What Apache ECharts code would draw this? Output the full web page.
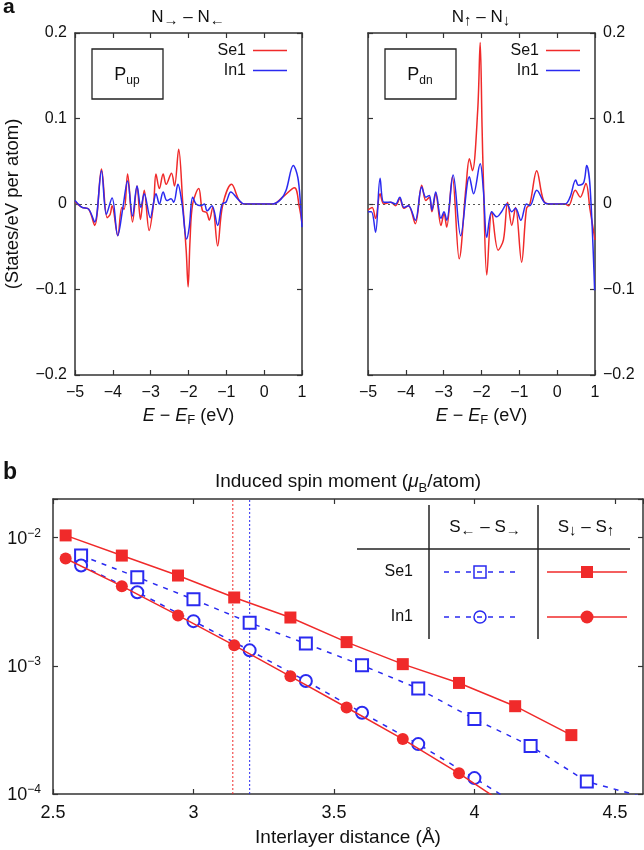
<!DOCTYPE html>
<html>
<head>
<meta charset="utf-8">
<script src="https://cdn.jsdelivr.net/npm/echarts@6.0.0/dist/echarts.min.js"></script>
<style>
  html, body { margin: 0; padding: 0; background: #fff; }
  #chart { width: 644px; height: 850px; }
</style>
</head>
<body>
<div id="chart"></div>
<script>
// ---------- Panel a (left): N→ − N← , P_up ----------
const upSe1E = [-5.0,-4.815,-4.64,-4.48,-4.30,-4.15,-4.07,-4.02,-3.87,-3.76,-3.70,-3.61,-3.48,-3.36,-3.27,-3.17,-3.04,-2.92,-2.86,-2.77,-2.67,-2.59,-2.45,-2.37,-2.26,-2.15,-2.06,-2.01,-1.96,-1.89,-1.73,-1.63,-1.52,-1.45,-1.36,-1.23,-1.10,-0.86,-0.66,-0.52,0.23,0.49,0.80,0.93,1.0];
const upSe1V = [0.003,-0.004,-0.006,-0.025,0.041,-0.016,-0.012,-0.002,-0.037,-0.004,-0.006,0.035,-0.021,0.021,-0.018,0.016,-0.031,0.002,0.035,0.018,0.035,0.023,0.036,0.021,0.064,0.0,-0.055,-0.097,-0.043,0.0,0.018,-0.008,-0.010,-0.019,-0.004,-0.049,-0.002,0.023,0.004,0.0,0.0,0.008,0.019,-0.004,-0.022];
const upIn1E = [-5.0,-4.815,-4.64,-4.48,-4.30,-4.17,-4.02,-3.87,-3.74,-3.61,-3.48,-3.36,-3.26,-3.17,-3.01,-2.92,-2.86,-2.77,-2.67,-2.57,-2.46,-2.39,-2.28,-2.17,-2.05,-1.98,-1.89,-1.80,-1.67,-1.58,-1.51,-1.38,-1.23,-1.11,-1.01,-0.88,-0.70,-0.52,0.23,0.45,0.58,0.77,0.89,0.96,1.0];
const upIn1V = [0.004,-0.004,-0.006,-0.021,0.039,-0.012,0.007,-0.037,-0.006,0.027,-0.014,0.021,-0.004,0.012,-0.016,0.002,0.012,0.0,0.014,0.004,0.006,0.002,0.023,0.0,-0.041,-0.027,0.008,0.0,-0.002,0.0,-0.008,-0.002,-0.025,0.0,0.002,0.014,0.006,0.0,0.0,0.006,0.016,0.045,0.031,0.0,-0.027];

// ---------- Panel a (right): N↑ − N↓ , P_dn ----------
const dnSe1E = [-5.0,-4.89,-4.80,-4.68,-4.58,-4.40,-4.27,-4.16,-4.05,-3.93,-3.75,-3.58,-3.47,-3.38,-3.31,-3.21,-3.07,-2.99,-2.92,-2.77,-2.59,-2.41,-2.32,-2.24,-2.10,-2.035,-1.985,-1.95,-1.86,-1.73,-1.56,-1.42,-1.31,-1.20,-1.10,-0.94,-0.81,-0.72,-0.54,-0.36,-0.19,0.21,0.30,0.48,0.61,0.76,0.87,1.0];
const dnSe1V = [-0.007,-0.004,-0.017,0.012,0.0,0.002,-0.002,0.006,-0.005,-0.002,-0.023,0.022,0.004,0.008,-0.009,0.012,-0.025,-0.011,-0.027,0.032,-0.064,0.020,0.053,0.039,0.11,0.189,0.09,0.028,-0.083,-0.009,-0.054,-0.042,0.002,-0.025,-0.004,-0.068,-0.005,0.0,0.039,0.004,0.0,0.0,-0.002,0.016,0.008,0.024,-0.007,-0.042];
const dnIn1E = [-5.0,-4.91,-4.80,-4.68,-4.58,-4.40,-4.27,-4.16,-4.05,-3.93,-3.75,-3.58,-3.47,-3.38,-3.31,-3.21,-3.07,-2.99,-2.92,-2.75,-2.55,-2.32,-2.21,-2.035,-1.95,-1.86,-1.73,-1.60,-1.47,-1.33,-1.20,-1.10,-0.96,-0.81,-0.72,-0.54,-0.32,-0.19,0.21,0.34,0.49,0.56,0.70,0.78,0.87,0.99];
const dnIn1V = [-0.009,-0.009,-0.033,0.030,0.002,0.002,0.0,0.008,-0.004,-0.002,-0.019,0.020,0.008,0.010,-0.007,0.014,-0.017,-0.009,-0.019,0.034,-0.037,0.032,0.012,0.047,0.016,-0.039,-0.009,-0.015,-0.009,0.0,-0.009,-0.005,-0.019,0.0,-0.002,0.016,0.001,0.0,0.0,0.008,0.028,0.022,0.025,0.045,0.020,-0.101];

// ---------- Panel b: induced spin moment ----------
const dist1 = [2.545,2.745,2.945,3.145,3.345,3.545,3.745,3.945,4.145,4.345];
const se1UD = [0.0104,0.00724,0.00506,0.00341,0.00238,0.00153,0.00103,0.000735,0.000484,0.000288];
const in1UD = [0.00687,0.00418,0.00247,0.001445,0.000828,0.000473,0.000268,0.000145,0.000074];
const dist2 = [2.6,2.8,3.0,3.2,3.4,3.6,3.8,4.0,4.2,4.4,4.6];
const se1LR = [0.00724,0.00491,0.0033,0.00217,0.00149,0.00101,0.000665,0.000384,0.000237,0.000125,0.000095];
const in1LR = [0.00605,0.00375,0.00223,0.00132,0.000762,0.00043,0.000245,0.000133,0.000071];
const refRed = 3.14, refBlue = 3.2;
const momRange = [1e-4, 0.02];

const xTicksTop = { min: -5, max: 1, interval: 1 };
const yTicksTop = { min: -0.2, max: 0.2, interval: 0.1 };

const RED = '#f02a2a', BLUE = '#2a2af0', AX = '#333';
const FONT = 'Liberation Sans, Arial, Helvetica, sans-serif';

const zip = (a, b) => a.slice(0, Math.min(a.length, b.length)).map((v, i) => [v, b[i]]);
const minus = v => String(v).replace('-', '\u2212');

function topX(gi, pos, labels) {
  return {
    type: 'value', gridIndex: gi, position: pos, ...xTicksTop,
    axisLine: { show: true, onZero: false, lineStyle: { color: AX, width: 1.5 } },
    axisTick: { show: true, inside: true, length: 5, lineStyle: { color: AX, width: 1.2 } },
    axisLabel: { show: labels, color: '#111', fontSize: 16, fontFamily: FONT, margin: 10, formatter: minus, showMinLabel: true, showMaxLabel: true },
    splitLine: { show: false },
    name: labels ? '{i|E}{n| \u2212 }{i|E}{s|F}{n| (eV)}' : '',
    nameLocation: 'middle', nameGap: 30,
    nameTextStyle: { fontFamily: FONT, color: '#111', rich: {
      i: { fontSize: 18, fontStyle: 'italic', fontFamily: FONT, lineHeight: 22 },
      n: { fontSize: 18, fontFamily: FONT, lineHeight: 22 },
      s: { fontSize: 13, fontFamily: FONT, lineHeight: 13, verticalAlign: 'bottom' } } }
  };
}
function topY(gi, pos, labels, named) {
  return {
    type: 'value', gridIndex: gi, position: pos, ...yTicksTop,
    axisLine: { show: true, onZero: false, lineStyle: { color: AX, width: 1.5 } },
    axisTick: { show: true, inside: true, length: 5, lineStyle: { color: AX, width: 1.2 } },
    axisLabel: { show: labels, color: '#111', fontSize: 16, fontFamily: FONT, margin: 8, formatter: minus },
    splitLine: { show: false },
    name: named ? '(States/eV per atom)' : '',
    nameLocation: 'middle', nameGap: 53, nameRotate: 90,
    nameTextStyle: { fontSize: 18.5, fontFamily: FONT, color: '#111' }
  };
}
const logFmt = v => {
  const e = Math.round(Math.log10(v));
  if (Math.abs(v / Math.pow(10, e) - 1) > 1e-6) return '';
  return '{b|10}{s|\u2212' + (-e) + '}';
};
function botY(pos, labels) {
  return {
    type: 'log', gridIndex: 2, position: pos, min: momRange[0], max: momRange[1], logBase: 10,
    axisLine: { show: true, onZero: false, lineStyle: { color: AX, width: 1.5 } },
    axisTick: { show: true, inside: true, length: 5, lineStyle: { color: AX, width: 1.2 } },
    minorTick: { show: false },
    axisLabel: { show: labels, color: '#111', fontFamily: FONT, margin: 12, formatter: logFmt,
      rich: { b: { fontSize: 18, fontFamily: FONT, lineHeight: 20, verticalAlign: 'bottom' },
              s: { fontSize: 12, fontFamily: FONT, lineHeight: 12, verticalAlign: 'top' } } },
    splitLine: { show: false }
  };
}
function botX(pos, labels) {
  return {
    type: 'value', gridIndex: 2, position: pos, min: 2.5, max: 4.6, interval: 0.5,
    axisLine: { show: true, onZero: false, lineStyle: { color: AX, width: 1.5 } },
    axisTick: { show: true, inside: true, length: 5, lineStyle: { color: AX, width: 1.2 } },
    axisLabel: { show: labels, color: '#111', fontSize: 18, fontFamily: FONT, margin: 10, showMaxLabel: false, showMinLabel: true },
    splitLine: { show: false },
    name: labels ? 'Interlayer distance (\u00c5)' : '',
    nameLocation: 'middle', nameGap: 34,
    nameTextStyle: { fontSize: 19, fontFamily: FONT, color: '#111' }
  };
}

const zeroLine = {
  silent: true, symbol: 'none', label: { show: false },
  lineStyle: { color: '#555', type: [2, 3], width: 1.2 },
  data: [{ yAxis: 0 }]
};
function dos(name, xi, yi, data, color, withZero) {
  const s = {
    name, type: 'line', xAxisIndex: xi, yAxisIndex: yi, data,
    smooth: 0.35, symbol: 'none', lineStyle: { color, width: 1.5 }, itemStyle: { color },
    clip: true, animation: false
  };
  if (withZero) s.markLine = zeroLine;
  return s;
}
function mom(name, data, color, symbol, dashed) {
  return {
    name, type: 'line', xAxisIndex: 4, yAxisIndex: 4, data,
    symbol, symbolSize: 12,
    lineStyle: { color, width: 1.5, type: dashed ? [5, 6] : 'solid' },
    itemStyle: { color, borderColor: color, borderWidth: dashed ? 1.5 : 0 },
    clip: true, animation: false, z: dashed ? 3 : 4
  };
}
function vref(x, color) {
  return {
    name: 'ref' + x, type: 'line', xAxisIndex: 4, yAxisIndex: 4, silent: true,
    data: [[x, momRange[0]], [x, momRange[1]]], symbol: 'none',
    lineStyle: { color, type: [2, 2], width: 1 }, itemStyle: { color },
    animation: false, z: 1
  };
}

const rt = (s) => ({ fontFamily: FONT, fill: '#111', ...s });
const subRich = (big, small) => ({
  n: { fontSize: big, fontFamily: FONT, lineHeight: big + 6, fill: '#111' },
  i: { fontSize: big, fontFamily: FONT, fontStyle: 'italic', lineHeight: big + 6, fill: '#111' },
  s: { fontSize: small, fontFamily: FONT, lineHeight: small, verticalAlign: 'bottom', fill: '#111' }
});

const graphics = [
  { type: 'text', left: 3, top: -3, style: rt({ text: 'a', fontSize: 21, fontWeight: 'bold' }) },
  { type: 'text', left: 3, top: 461, style: rt({ text: 'b', fontSize: 23, fontWeight: 'bold' }) },
  { type: 'text', x: 188, y: 17, style: rt({ text: '{n|N}{s|\u2192}{n| \u2013 N}{s|\u2190}', align: 'center', verticalAlign: 'middle', rich: subRich(17, 15) }) },
  { type: 'text', x: 481, y: 17, style: rt({ text: '{n|N}{s|\u2191}{n| \u2013 N}{s|\u2193}', align: 'center', verticalAlign: 'middle', rich: subRich(17, 15) }) },
  { type: 'rect', shape: { x: 92, y: 49, width: 71, height: 50 }, style: { fill: 'none', stroke: '#222', lineWidth: 1.3 } },
  { type: 'text', x: 127, y: 75, style: rt({ text: '{n|P}{s|up}', align: 'center', verticalAlign: 'middle', rich: subRich(18, 12) }) },
  { type: 'rect', shape: { x: 385, y: 49, width: 71, height: 50 }, style: { fill: 'none', stroke: '#222', lineWidth: 1.3 } },
  { type: 'text', x: 420, y: 75, style: rt({ text: '{n|P}{s|dn}', align: 'center', verticalAlign: 'middle', rich: subRich(18, 12) }) },
  { type: 'text', x: 348, y: 482, style: rt({ text: '{n|Induced spin moment (}{i|\u03bc}{s|B}{n|/atom)}', align: 'center', verticalAlign: 'middle', rich: subRich(19, 13) }) },
  // legend table in panel b
  { type: 'line', shape: { x1: 429, y1: 505, x2: 429, y2: 639 }, style: { stroke: '#222', lineWidth: 1.5 } },
  { type: 'line', shape: { x1: 538, y1: 505, x2: 538, y2: 639 }, style: { stroke: '#222', lineWidth: 1.5 } },
  { type: 'line', shape: { x1: 357, y1: 549, x2: 630, y2: 549 }, style: { stroke: '#222', lineWidth: 1.5 } },
  { type: 'text', x: 485, y: 527, style: rt({ text: '{n|S}{s|\u2190}{n| \u2013 S}{s|\u2192}', align: 'center', verticalAlign: 'middle', rich: subRich(17, 15) }) },
  { type: 'text', x: 586, y: 527, style: rt({ text: '{n|S}{s|\u2193}{n| \u2013 S}{s|\u2191}', align: 'center', verticalAlign: 'middle', rich: subRich(17, 15) }) },
  { type: 'text', x: 413, y: 572, style: rt({ text: 'Se1', fontSize: 16, align: 'right', verticalAlign: 'middle' }) },
  { type: 'text', x: 413, y: 617, style: rt({ text: 'In1', fontSize: 16, align: 'right', verticalAlign: 'middle' }) },
  { type: 'line', shape: { x1: 444, y1: 572, x2: 516, y2: 572 }, style: { stroke: BLUE, lineWidth: 1.5, lineDash: [5, 6] } },
  { type: 'rect', shape: { x: 474, y: 566, width: 12, height: 12 }, style: { fill: 'none', stroke: BLUE, lineWidth: 1.5 } },
  { type: 'line', shape: { x1: 444, y1: 617, x2: 516, y2: 617 }, style: { stroke: BLUE, lineWidth: 1.5, lineDash: [5, 6] } },
  { type: 'circle', shape: { cx: 480, cy: 617, r: 6 }, style: { fill: 'none', stroke: BLUE, lineWidth: 1.5 } },
  { type: 'line', shape: { x1: 547, y1: 572, x2: 627, y2: 572 }, style: { stroke: RED, lineWidth: 1.5 } },
  { type: 'rect', shape: { x: 581, y: 566, width: 12, height: 12 }, style: { fill: RED } },
  { type: 'line', shape: { x1: 547, y1: 617, x2: 627, y2: 617 }, style: { stroke: RED, lineWidth: 1.5 } },
  { type: 'circle', shape: { cx: 587, cy: 617, r: 6.5 }, style: { fill: RED } }
];

const legendCommon = {
  data: ['Se1', 'In1'], orient: 'vertical', top: 42, align: 'right', padding: 0,
  icon: 'rect', itemWidth: 34, itemHeight: 1.6, itemGap: 3, selectedMode: false,
  textStyle: { fontSize: 16, fontFamily: FONT, color: '#111', lineHeight: 17, padding: [0, 2, 0, 0] }
};

const chart = echarts.init(document.getElementById('chart'), null, { renderer: 'canvas' });
chart.setOption({
  animation: false,
  backgroundColor: '#fff',
  textStyle: { fontFamily: FONT },
  grid: [
    { left: 75, top: 33, width: 227, height: 342 },
    { left: 368, top: 33, width: 227, height: 342 },
    { left: 53, top: 499, width: 590, height: 295 }
  ],
  xAxis: [
    topX(0, 'bottom', true), topX(0, 'top', false),
    topX(1, 'bottom', true), topX(1, 'top', false),
    botX('bottom', true), botX('top', false)
  ],
  yAxis: [
    topY(0, 'left', true, true), topY(0, 'right', false, false),
    topY(1, 'right', true, false), topY(1, 'left', false, false),
    botY('left', true), botY('right', false)
  ],
  legend: [
    { ...legendCommon, right: 357 },
    { ...legendCommon, right: 64 }
  ],
  series: [
    dos('Se1', 0, 0, zip(upSe1E, upSe1V), RED, true),
    dos('In1', 0, 0, zip(upIn1E, upIn1V), BLUE, false),
    dos('Se1', 2, 2, zip(dnSe1E, dnSe1V), RED, true),
    dos('In1', 2, 2, zip(dnIn1E, dnIn1V), BLUE, false),
    vref(refRed, RED),
    vref(refBlue, BLUE),
    mom('Se1 S\u2190\u2212S\u2192', zip(dist2, se1LR), BLUE, 'emptyRect', true),
    mom('In1 S\u2190\u2212S\u2192', zip(dist2, in1LR), BLUE, 'emptyCircle', true),
    mom('Se1 S\u2193\u2212S\u2191', zip(dist1, se1UD), RED, 'rect', false),
    mom('In1 S\u2193\u2212S\u2191', zip(dist1, in1UD), RED, 'circle', false)
  ],
  graphic: graphics
});
</script>
</body>
</html>
